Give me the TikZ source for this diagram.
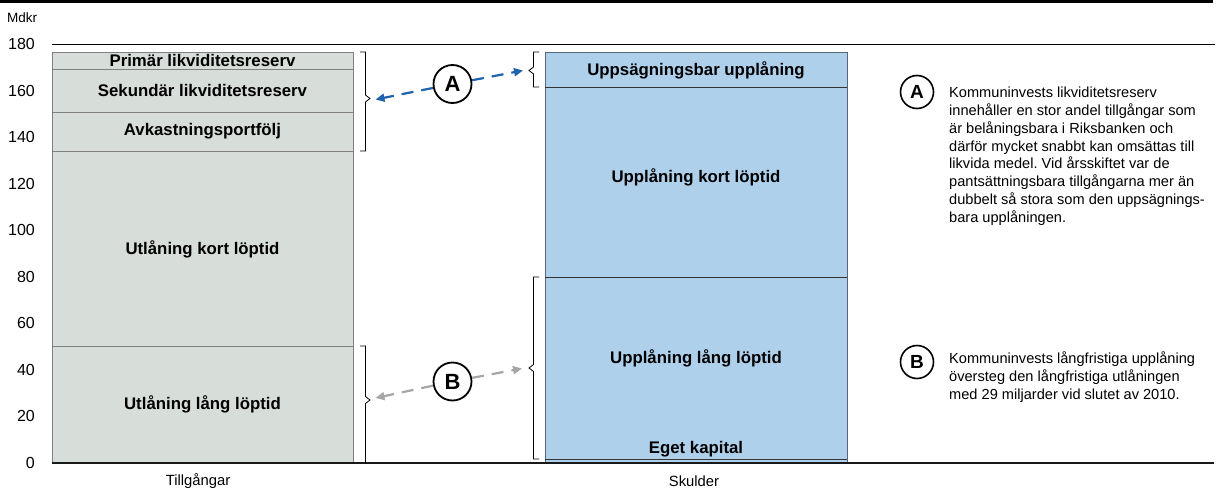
\documentclass[tikz,border=0pt]{standalone}
\usepackage{fontspec}
\setmainfont{Liberation Sans}
\usetikzlibrary{arrows.meta}
\frenchspacing
\definecolor{assetfill}{HTML}{D7DDD9}
\definecolor{assetline}{HTML}{808080}
\definecolor{debtfill}{HTML}{AFD0EB}
\definecolor{debtline}{HTML}{56687A}
\definecolor{arrblue}{HTML}{1F62AE}
\definecolor{arrgray}{HTML}{A6A6A6}
\tikzset{
  asset/.style={draw=assetline, fill=assetfill, line width=0.9pt, minimum width=301pt, inner sep=0pt, anchor=north},
  debt/.style={draw=debtline, fill=debtfill, line width=0.9pt, minimum width=302pt, inner sep=0pt, anchor=north},
  boldlab/.style={font=\bfseries\fontsize{16.8}{18}\selectfont, inner sep=0pt},
  ticklab/.style={font=\fontsize{16}{17}\selectfont, anchor=east, inner sep=0pt},
  catlab/.style={font=\fontsize{14.8}{16}\selectfont, inner sep=0pt},
  bigcirc/.style={circle, draw=black, line width=1.8pt, minimum size=38pt, inner sep=0pt, font=\bfseries\fontsize{22}{24}\selectfont},
  smallcirc/.style={circle, draw=black, line width=1.6pt, minimum size=33pt, inner sep=0pt, font=\bfseries\fontsize{19}{21}\selectfont},
  bracket/.style={draw=black, line width=0.8pt},
  arrA/.style={draw=arrblue, line width=2.2pt, dash pattern=on 12pt off 8pt, -{Triangle[length=9pt,width=8pt]}},
  arrB/.style={draw=arrgray, line width=2.2pt, dash pattern=on 12pt off 8pt, -{Triangle[length=9pt,width=8pt]}},
  sidetext/.style={align=left, anchor=north west, inner sep=0pt, font=\fontsize{14.6}{17.8}\selectfont},
}
\begin{document}
\begin{tikzpicture}[x=1pt,y=-1pt]
\useasboundingbox (0,0) rectangle (1216,490);
% top rule and grid lines
\draw[line width=3pt] (0,1.5) -- (1213,1.5);
\draw[line width=0.9pt] (52,44) -- (1215,44);
% y axis labels
\node[font=\fontsize{13.5}{15}\selectfont, anchor=west, inner sep=0pt] (unit) at (7,18) {Mdkr};
\foreach \v in {0,20,...,180}{
  \node[ticklab] (t\v) at (35,{463-2.3278*\v}) {\v};
}
% assets
\node[asset, minimum height=17pt] (prim) at (202.5,52) {};
\node[asset, minimum height=43pt] (sek) at (202.5,69) {};
\node[asset, minimum height=39pt] (avk) at (202.5,112) {};
\node[asset, minimum height=195pt] (ukort) at (202.5,151) {};
\node[asset, minimum height=117pt] (ulang) at (202.5,346) {};
\node[boldlab] (lprim) at (202.5,60.5) {Primär likviditetsreserv};
\node[boldlab] (lsek) at (202.5,90.5) {Sekundär likviditetsreserv};
\node[boldlab] (lavk) at (202.5,131.5) {Avkastningsportfölj};
\node[boldlab] (lukort) at (202.5,249) {Utlåning kort löptid};
\node[boldlab] (lulang) at (202.5,404.5) {Utlåning lång löptid};
% liabilities
\node[debt, minimum height=35pt] (upps) at (696,52) {};
\node[debt, minimum height=190pt] (okort) at (696,87) {};
\node[debt, minimum height=182pt] (olang) at (696,277) {};
\node[debt, minimum height=4pt] (eget) at (696,459) {};
\draw[line width=0.9pt, black!80] (upps.south west) -- (upps.south east);
\draw[line width=0.9pt, black!80] (okort.south west) -- (okort.south east);
\draw[line width=0.9pt, black!80] (olang.south west) -- (olang.south east);
\node[boldlab] (lupps) at (696,70.5) {Uppsägningsbar upplåning};
\node[boldlab] (lokort) at (696,177.5) {Upplåning kort löptid};
\node[boldlab] (lolang) at (696,358) {Upplåning lång löptid};
\node[boldlab] (leget) at (696,449) {Eget kapital};
% axis line
\draw[line width=1.4pt, black!90] (52,463) -- (1214,463);
% categories
\node[catlab] (tg) at (198,481) {Tillgångar};
\node[catlab] (sk) at (694,481) {Skulder};
% brackets
\draw[bracket] (360,52) -- (365.5,52) -- (365.5,95) -- (370,98.5) -- (365.5,102) -- (365.5,151) -- (360,151);
\draw[bracket] (539,52) -- (533.5,52) -- (533.5,67) -- (529,70.5) -- (533.5,74) -- (533.5,87) -- (539,87);
\draw[bracket] (360,346) -- (365.5,346) -- (365.5,396.5) -- (370,400) -- (365.5,403.5) -- (365.5,463);
\draw[bracket] (539,277) -- (533.5,277) -- (533.5,364.5) -- (529,368) -- (533.5,371.5) -- (533.5,459) -- (539,459);
% circles and arrows
\node[bigcirc] (ca) at (452.5,84) {A};
\node[bigcirc] (cb) at (452.5,381.5) {B};
\coordinate (aL) at (375.5,99.5);
\coordinate (aR) at (523,70.5);
\coordinate (bL) at (375.5,398);
\coordinate (bR) at (522,368.5);
\draw[arrA] (ca) -- (aL);
\draw[arrA] (ca) -- (aR);
\draw[arrB] (cb) -- (bL);
\draw[arrB] (cb) -- (bR);
% side notes
\node[smallcirc] (na) at (917,92) {A};
\node[sidetext] (ta) at (949,87) {Kommuninvests likviditetsreserv\\innehåller en stor andel tillgångar som\\är belåningsbara i Riksbanken och\\därför mycket snabbt kan omsättas till\\likvida medel. Vid årsskiftet var de\\pantsättningsbara tillgångarna mer än\\dubbelt så stora som den uppsägnings-\\bara upplåningen.};
\node[smallcirc] (nb) at (917,362) {B};
\node[sidetext] (tb) at (949,351.5) {Kommuninvests långfristiga upplåning\\översteg den långfristiga utlåningen\\med 29 miljarder vid slutet av 2010.};
\end{tikzpicture}
\end{document}
